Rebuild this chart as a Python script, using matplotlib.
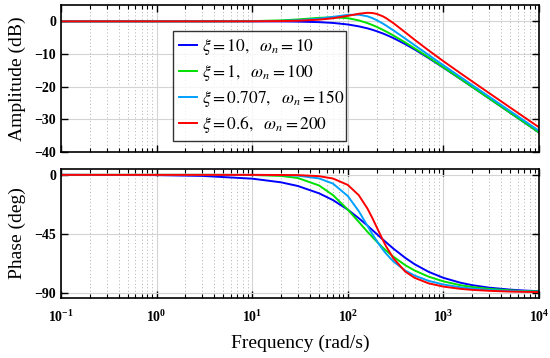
import matplotlib
matplotlib.use("Agg")
import matplotlib.pyplot as plt
from matplotlib.ticker import LogLocator, NullFormatter, FixedLocator

plt.rcParams["font.family"] = ["Liberation Serif", "DejaVu Serif"]
plt.rcParams["mathtext.fontset"] = "stix"
plt.rcParams["axes.unicode_minus"] = True

# frequencies read along the x axis (rad/s)
freq = [0.1, 1, 3, 10, 20, 30, 50, 70, 100, 130, 160, 180, 200, 230, 250,
        300, 400, 500, 700, 1000, 1500, 2000, 3000, 5000, 7000, 10000]

# amplitude (dB)
amp_blue = [0.0, 0.02, 0.02, 0.01, -0.02, -0.08, -0.24, -0.48, -0.95, -1.52,
            -2.13, -2.56, -3.0, -3.65, -4.08, -5.11, -6.99, -8.6, -11.22,
            -14.15, -17.58, -20.04, -23.54, -27.97, -30.88, -33.98]
amp_green = [0.0, 0.0, 0.01, 0.08, 0.30, 0.59, 1.07, 1.25, 0.97, 0.30, -0.52,
             -1.10, -1.67, -2.52, -3.06, -4.32, -6.48, -8.26, -11.03, -14.06,
             -17.53, -20.02, -23.53, -27.96, -30.88, -33.98]
amp_cyan = [0.0, 0.0, 0.0, 0.04, 0.15, 0.33, 0.82, 1.37, 1.98, 2.04, 1.55,
            1.01, 0.39, -0.59, -1.24, -2.76, -5.3, -7.29, -10.28, -13.42,
            -16.97, -19.48, -23.0, -27.45, -30.37, -33.47]
amp_red = [0.0, 0.0, 0.0, 0.02, 0.09, 0.19, 0.51, 0.95, 1.69, 2.32, 2.62,
           2.56, 2.29, 1.60, 1.03, -0.54, -3.39, -5.63, -8.88, -12.19,
           -15.82, -18.36, -21.91, -26.37, -29.3, -32.39]

# phase (deg)
ph_blue = [0.0, -0.2, -0.8, -2.9, -5.7, -8.5, -14.1, -19.3, -26.6, -33.1,
           -38.7, -42.1, -45.1, -49.1, -51.4, -56.4, -63.5, -68.3, -74.1,
           -78.7, -82.4, -84.3, -86.2, -87.7, -88.4, -88.9]
ph_green = [0.0, 0.0, 0.0, -0.1, -0.8, -2.4, -8.1, -15.5, -26.6, -35.9, -43.4,
            -47.4, -50.9, -55.3, -57.7, -62.6, -69.1, -73.1, -77.8, -81.4,
            -84.3, -85.7, -87.1, -88.3, -88.8, -89.1]
ph_cyan = [0.0, 0.0, 0.0, 0.0, -0.2, -0.6, -2.7, -6.7, -16.2, -27.7, -38.8,
           -45.1, -50.3, -56.7, -60.0, -66.2, -73.2, -77.0, -81.0, -83.8,
           -85.9, -86.9, -88.0, -88.8, -89.1, -89.4]
ph_red = [0.0, 0.0, 0.0, 0.0, -0.1, -0.2, -1.0, -2.8, -7.7, -15.5, -25.6,
          -32.8, -39.8, -49.1, -54.3, -63.8, -74.0, -78.7, -82.9, -85.4,
          -87.1, -87.9, -88.6, -89.2, -89.4, -89.6]

labels = [r"$\xi = 10,\ \ \omega_n = 10$",
          r"$\xi = 1,\ \ \omega_n = 100$",
          r"$\xi = 0.707,\ \ \omega_n = 150$",
          r"$\xi = 0.6,\ \ \omega_n = 200$"]
colors = ["#0000ff", "#00e000", "#00a0ff", "#ff0000"]

amps = [amp_blue, amp_green, amp_cyan, amp_red]
phases = [ph_blue, ph_green, ph_cyan, ph_red]

fig = plt.figure(figsize=(5.5, 3.58), dpi=100)
ax1 = fig.add_axes([0.111, 0.575, 0.869, 0.411])
ax2 = fig.add_axes([0.111, 0.168, 0.869, 0.36])


def style_axis(ax):
    ax.set_xscale("log")
    ax.set_xlim(0.1, 1e4)
    ax.xaxis.set_major_locator(LogLocator(base=10, numticks=10))
    ax.xaxis.set_minor_locator(LogLocator(base=10, subs=range(2, 10), numticks=20))
    ax.xaxis.set_minor_formatter(NullFormatter())
    ax.grid(True, which="major", color="#d4d4d4", linewidth=0.8, linestyle="-")
    ax.grid(True, which="minor", color="#b0b0b0", linewidth=0.7, linestyle=(0, (1, 2.5)))
    ax.set_axisbelow(True)
    ax.tick_params(which="both", direction="in", top=True, right=True)
    ax.tick_params(which="major", length=5, width=1)
    ax.tick_params(which="minor", length=3, width=0.8)
    ax.tick_params(axis="x", which="major", pad=8)
    for s in ax.spines.values():
        s.set_linewidth(1.2)
    for t in ax.get_yticklabels():
        t.set_fontweight("bold")
        t.set_fontsize(10)


for a, c, lab in zip(amps, colors, labels):
    ax1.plot(freq, a, color=c, linewidth=1.4, label=lab)
ax1.set_ylim(-40, 5)
ax1.yaxis.set_major_locator(FixedLocator([0, -10, -20, -30, -40]))
style_axis(ax1)
ax1.tick_params(axis="x", labelbottom=False)
ax1.set_ylabel("Amplitude (dB)", fontsize=14, labelpad=6)
leg = ax1.legend(loc="lower left", bbox_to_anchor=(0.234, 0.075, 0.362, 0.7),
                 mode="expand", fontsize=12.5, frameon=True, fancybox=False,
                 edgecolor="black", handlelength=1.05, handletextpad=0.25,
                 borderaxespad=0, labelspacing=0.3, borderpad=0.35)
leg.get_frame().set_linewidth(1.0)

for p, c in zip(phases, colors):
    ax2.plot(freq, p, color=c, linewidth=1.4)
ax2.set_ylim(-94, 4.5)
ax2.yaxis.set_major_locator(FixedLocator([0, -45, -90]))
style_axis(ax2)
for t in ax2.get_xticklabels():
    t.set_fontweight("bold")
    t.set_fontsize(10)
ax2.set_ylabel("Phase (deg)", fontsize=14, labelpad=6)
ax2.set_xlabel("Frequency (rad/s)", fontsize=14, labelpad=7)

fig.savefig("out.png", dpi=100)
